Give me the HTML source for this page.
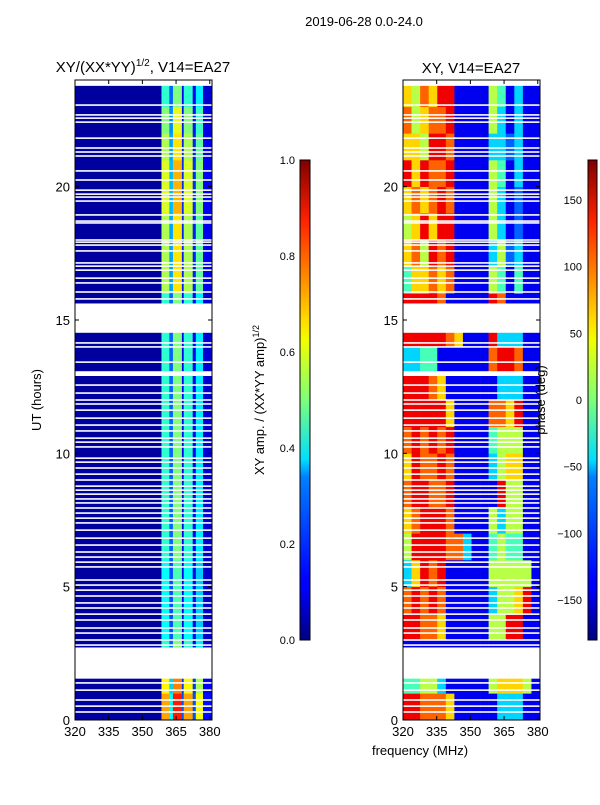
<!DOCTYPE html>
<html><head><meta charset="utf-8">
<style>
body{margin:0;background:#fff;}
svg text{font-family:"Liberation Sans",sans-serif;fill:#000;}
</style></head>
<body>
<svg id="fig" width="600" height="800" viewBox="0 0 600 800" xmlns="http://www.w3.org/2000/svg">
<defs>
<linearGradient id="jet" x1="0" y1="1" x2="0" y2="0">
<stop offset="0" stop-color="#00007f"/><stop offset="0.11" stop-color="#0000ff"/>
<stop offset="0.125" stop-color="#0000ff"/><stop offset="0.34" stop-color="#0080ff"/>
<stop offset="0.375" stop-color="#00ddff"/><stop offset="0.5" stop-color="#7dff7a"/>
<stop offset="0.625" stop-color="#f0ff00"/><stop offset="0.66" stop-color="#ffe000"/>
<stop offset="0.875" stop-color="#ff2000"/><stop offset="1" stop-color="#7f0000"/>
</linearGradient>
</defs>
<text x="364" y="26" font-size="13" text-anchor="middle">2019-06-28 0.0-24.0</text>
<text x="143" y="72" font-size="15" text-anchor="middle">XY/(XX*YY)<tspan font-size="10" dy="-6">1/2</tspan><tspan dy="6">, V14=EA27</tspan></text>
<text x="471" y="73" font-size="15" text-anchor="middle">XY, V14=EA27</text>
<g id="ampPanel"></g>
<g id="phPanel"></g>
<g id="axes"></g>
<rect x="300" y="160" width="10" height="480" fill="url(#jet)" stroke="#000" stroke-width="1"/>
<rect x="588" y="160" width="9" height="480" fill="url(#jet)" stroke="#000" stroke-width="1"/>
<text transform="translate(41,400) rotate(-90)" font-size="13" text-anchor="middle">UT (hours)</text>
<text transform="translate(264,400) rotate(-90)" font-size="13" text-anchor="middle">XY amp. / (XX*YY amp)<tspan font-size="9" dy="-5">1/2</tspan></text>
<text transform="translate(545,400) rotate(-90)" font-size="13" text-anchor="middle">phase (deg)</text>
<text x="420" y="755" font-size="13" text-anchor="middle">frequency (MHz)</text>
</svg>
<script>
const ampEdges=[320,358.5,362,363.6,367.6,368.4,372.4,373.8,377,381];
const ampVals=[0.03,0.42,0.22,0.5,0.12,0.42,0.12,0.36,0.08];
const ampHourFactor=[1.7,1.5,1,0.9,0.9,0.9,1,1,1,1,1,1,1,1,1,1,1.3,1.3,1.3,1.4,1.4,1.3,1.2,1.0];
const phaseRows=["8877761111133311","4455311111566651","1111111111111111","8877611111558811","7878711111355681","3687811111555551","5888877311454411","6788871111535511","7887781111185511","6877871111356611","7878781111455511","8888861111776811","8887611111133311","3344111111788711","8888876111833311","8888711111871111","4667671111541411","6758781111352311","5686881111531211","6767871111531211","8687781111541311","6658871111332311","7567781111531311","6576881111541311"];
const bigGaps=[[14.52,15.62],[1.55,2.72],[23.78,24.0],[12.9,13.08]];
const thinGaps=[23.06,22.69,22.57,22.42,21.82,21.45,21.30,21.15,20.59,20.25,19.87,19.72,19.61,19.46,18.94,18.71,18.64,18.00,17.92,17.81,17.59,17.14,17.02,16.87,16.57,16.39,16.05,15.79,14.62,14.14,13.99,13.42,12.56,12.26,12.00,11.85,11.62,11.32,11.06,10.84,10.57,10.42,10.24,9.82,9.67,9.45,9.22,9.00,8.77,8.62,8.47,8.29,8.14,7.95,7.76,7.57,7.39,7.12,6.82,6.56,6.30,6.11,5.92,5.74,5.25,5.06,4.87,4.65,4.39,4.20,3.97,3.75,3.45,3.26,3.00,2.81,1.39,1.12,0.75,0.52,0.30];
const xTicks=[320,335,350,365,380];
const yTicks=[0,5,10,15,20];
const ampCbTicks=[0.0,0.2,0.4,0.6,0.8,1.0];
const phCbTicks=[-150,-100,-50,0,50,100,150];

const NS="http://www.w3.org/2000/svg";
const yTop=80,yBot=720;
const yS=t=>yBot-(t/24)*(yBot-yTop);
function xS(x0,f){return x0+(f-320)/61*137;}
function jet(v){v=Math.max(0,Math.min(1,v));
 const c=x=>Math.round(255*Math.max(0,Math.min(1,1.5-Math.abs(4*v-x))));
 return `rgb(${c(3)},${c(2)},${c(1)})`;}
function mk(tag,attrs,parent){const e=document.createElementNS(NS,tag);for(const k in attrs)e.setAttribute(k,attrs[k]);parent.appendChild(e);return e;}
const amp=document.getElementById('ampPanel'),ph=document.getElementById('phPanel'),ax=document.getElementById('axes');
for(let h=0;h<24;h++){for(let i=0;i<ampVals.length;i++){
 const x1=xS(75,ampEdges[i]),x2=xS(75,ampEdges[i+1]);
 const r=mk('rect',{x:x1,y:yS(h+1),width:x2-x1+0.3,height:yS(h)-yS(h+1)+0.3,fill:jet(Math.min(1,ampVals[i]*(i===0?1:ampHourFactor[h])))},amp);
 
 
}}
for(let h=0;h<24;h++){const s=phaseRows[h];for(let j=0;j<s.length;j++){
 const f1=320+j*61/s.length,f2=320+(j+1)*61/s.length;
 const v=(+s[j])/9;
 const r=mk('rect',{x:xS(403,f1),y:yS(h+1),width:xS(403,f2)-xS(403,f1)+0.3,height:yS(h)-yS(h+1)+0.3,fill:jet(v)},ph);
 
 
}}
[[75,amp],[403,ph]].forEach(([x0,g])=>{
 bigGaps.forEach(([a,b])=>{const r=mk('rect',{x:x0,y:yS(b),width:137,height:yS(a)-yS(b),fill:'#fff'},g);
  
  });
 thinGaps.forEach(t=>{const r=mk('rect',{x:x0,y:yS(t)-0.8,width:137,height:1.6,fill:'#fff'},g);
  
  });
});
[75,403].forEach(x0=>{
 const f=mk('rect',{x:x0,y:yTop,width:137,height:yBot-yTop,fill:'none',stroke:'#000','stroke-width':1},ax);
 
 
 xTicks.forEach(v=>{const x=xS(x0,v);
  mk('line',{x1:x,x2:x,y1:yBot,y2:yBot-4,stroke:'#000'},ax);
  mk('line',{x1:x,x2:x,y1:yTop,y2:yTop+4,stroke:'#000'},ax);
  const t=mk('text',{x:x,y:yBot+16,'font-size':13,'text-anchor':'middle'},ax);t.textContent=v;
  
  });
 yTicks.forEach(v=>{const y=yS(v);
  mk('line',{x1:x0,x2:x0+4,y1:y,y2:y,stroke:'#000'},ax);
  mk('line',{x1:x0+137,x2:x0+133,y1:y,y2:y,stroke:'#000'},ax);
  const t=mk('text',{x:x0-5,y:y+5,'font-size':13,'text-anchor':'end'},ax);t.textContent=v;
  
  });
});
ampCbTicks.forEach(v=>{const y=640-v*480;
 mk('line',{x1:300,x2:310,y1:y,y2:y,stroke:'#000'},ax);
 const t=mk('text',{x:295,y:y+4,'font-size':11,'text-anchor':'end'},ax);t.textContent=v.toFixed(1);
 
 });
phCbTicks.forEach(v=>{const y=640-(v+180)/360*480;
 mk('line',{x1:588,x2:597,y1:y,y2:y,stroke:'#000'},ax);
 const t=mk('text',{x:582,y:y+4,'font-size':11,'text-anchor':'end'},ax);t.textContent=v<0?'\u2212'+(-v):v;
 
 });
</script>
</body></html>
